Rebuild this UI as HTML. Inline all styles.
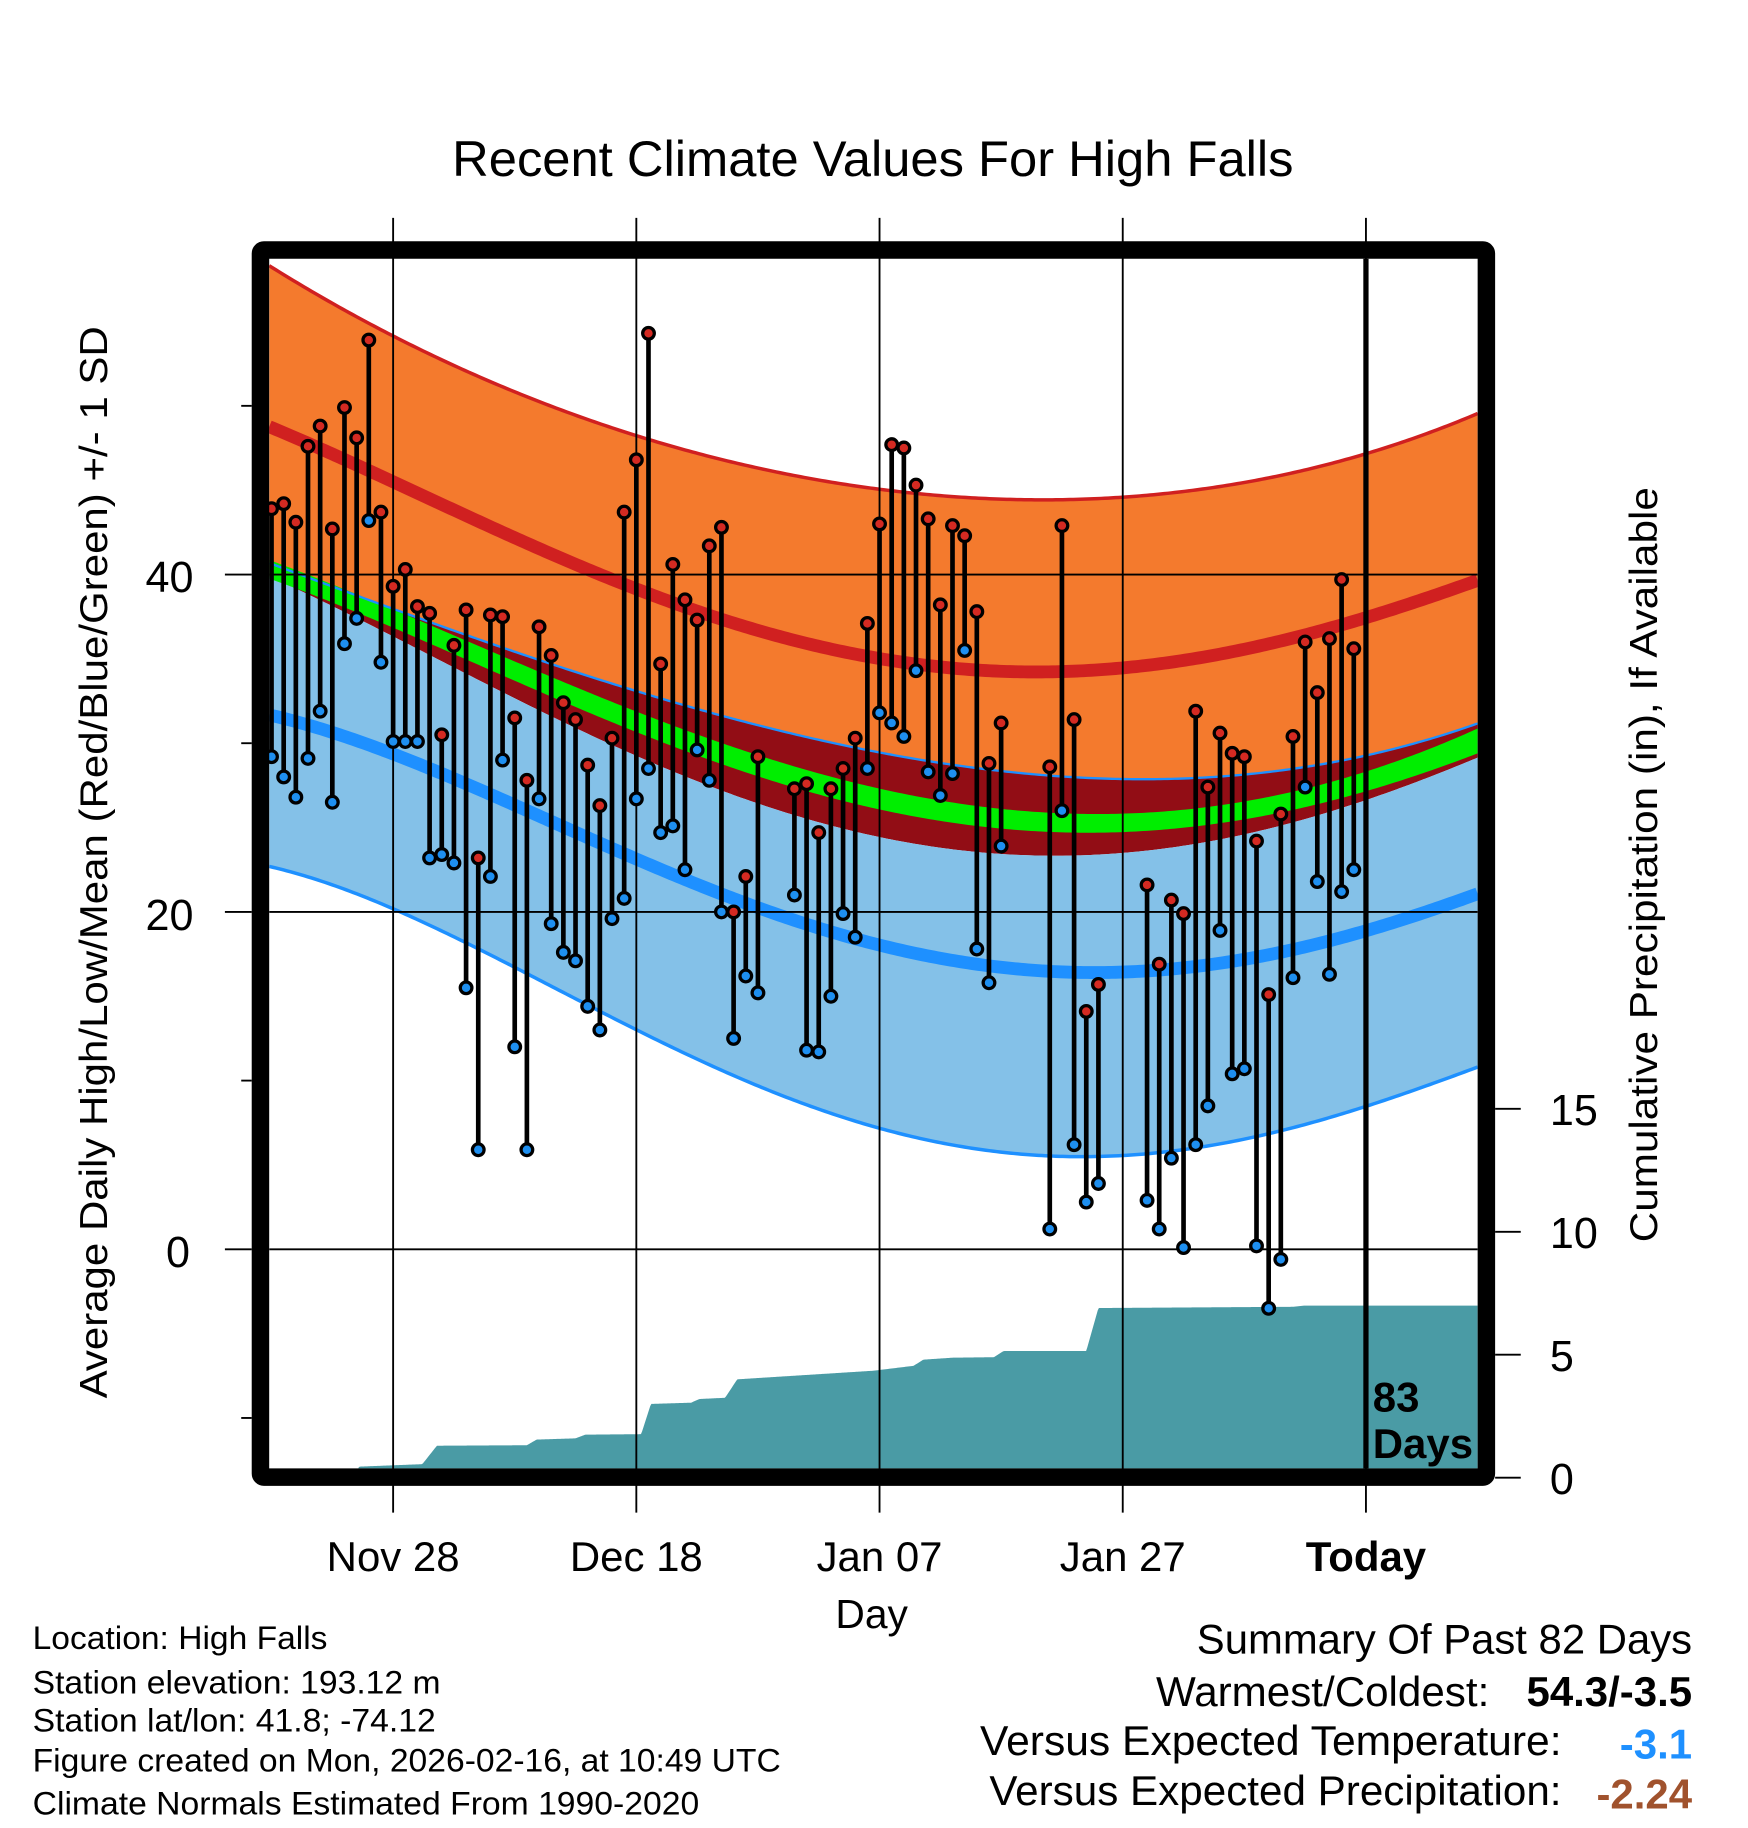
<!DOCTYPE html>
<html><head><meta charset="utf-8"><style>
html,body{margin:0;padding:0;background:#fff;}
svg{display:block;font-family:"Liberation Sans",Arial,sans-serif;}
</style></head><body>
<svg id="chart" width="1748" height="1828" viewBox="0 0 1500 1568.6" preserveAspectRatio="none" xmlns="http://www.w3.org/2000/svg">
<g id="plotArea"></g>
<text x="749" y="151" font-size="43" text-anchor="middle" textLength="722" lengthAdjust="spacingAndGlyphs">Recent Climate Values For High Falls</text>
<text x="166" y="508" font-size="37" text-anchor="end">40</text>
<text x="166" y="798" font-size="37" text-anchor="end">20</text>
<text x="163" y="1087" font-size="37" text-anchor="end">0</text>
<text transform="translate(92,740) rotate(-90)" font-size="33" text-anchor="middle" textLength="920" lengthAdjust="spacingAndGlyphs">Average Daily High/Low/Mean (Red/Blue/Green) +/- 1 SD</text>
<text transform="translate(1422,742) rotate(-90)" font-size="33" text-anchor="middle" textLength="648" lengthAdjust="spacingAndGlyphs">Cumulative Precipitation (in), If Available</text>
<text x="748" y="1397" font-size="35" text-anchor="middle">Day</text>
<text x="1178" y="1211" font-size="36" font-weight="bold">83</text>
<text x="1178" y="1251" font-size="36" font-weight="bold">Days</text>
<g font-size="28">
<text x="28" y="1415" textLength="253" lengthAdjust="spacingAndGlyphs">Location: High Falls</text>
<text x="28" y="1453" textLength="350" lengthAdjust="spacingAndGlyphs">Station elevation: 193.12 m</text>
<text x="28" y="1486" textLength="346" lengthAdjust="spacingAndGlyphs">Station lat/lon: 41.8; -74.12</text>
<text x="28" y="1520" textLength="642" lengthAdjust="spacingAndGlyphs">Figure created on Mon, 2026-02-16, at 10:49 UTC</text>
<text x="28" y="1557" textLength="572" lengthAdjust="spacingAndGlyphs">Climate Normals Estimated From 1990-2020</text>
</g>
<g font-size="36">
<text x="1452" y="1419" text-anchor="end" textLength="425" lengthAdjust="spacingAndGlyphs">Summary Of Past 82 Days</text>
<text x="1278" y="1464" text-anchor="end" textLength="286" lengthAdjust="spacingAndGlyphs">Warmest/Coldest:</text>
<text x="1452" y="1464" text-anchor="end" font-weight="bold">54.3/-3.5</text>
<text x="1340" y="1506" text-anchor="end" textLength="499" lengthAdjust="spacingAndGlyphs">Versus Expected Temperature:</text>
<text x="1452" y="1509" text-anchor="end" font-weight="bold" fill="#1e90ff">-3.1</text>
<text x="1340" y="1549" text-anchor="end" textLength="491" lengthAdjust="spacingAndGlyphs">Versus Expected Precipitation:</text>
<text x="1452" y="1552" text-anchor="end" font-weight="bold" fill="#a0522d">-2.24</text>
</g>
</svg>
<script>
// Observed data: day index from Nov 18 (0) ; Today = 90 (Feb 16)
const obsDays = [0,1,2,3,4,5,6,7,8,9,10,11,12,13,14,15,16,17,18,19,20,21,22,23,24,25,26,27,28,29,30,31,32,33,34,35,36,37,38,39,40,
43,44,45,46,47,48,49,50,51,52,53,54,55,56,57,58,59,60,
64,65,66,67,68,
72,73,74,75,76,77,78,79,80,81,82,83,84,85,86,87,88,89];
const highs = [43.9,44.2,43.1,47.6,48.8,42.7,49.9,48.1,53.9,43.7,39.3,40.3,38.1,37.7,30.5,35.8,37.9,23.2,37.6,37.5,31.5,27.8,36.9,35.2,32.4,31.4,28.7,26.3,30.3,43.7,46.8,54.3,34.7,40.6,38.5,37.3,41.7,42.8,20.0,22.1,29.2,
27.3,27.6,24.7,27.3,28.5,30.3,37.1,43.0,47.7,47.5,45.3,43.3,38.2,42.9,42.3,37.8,28.8,31.2,
28.6,42.9,31.4,14.1,15.7,
21.6,16.9,20.7,19.9,31.9,27.4,30.6,29.4,29.2,24.2,15.1,25.8,30.4,36.0,33.0,36.2,39.7,35.6];
const lows = [29.2,28.0,26.8,29.1,31.9,26.5,35.9,37.4,43.2,34.8,30.1,30.1,30.1,23.2,23.4,22.9,15.5,5.9,22.1,29.0,12.0,5.9,26.7,19.3,17.6,17.1,14.4,13.0,19.6,20.8,26.7,28.5,24.7,25.1,22.5,29.6,27.8,20.0,12.5,16.2,15.2,
21.0,11.8,11.7,15.0,19.9,18.5,28.5,31.8,31.2,30.4,34.3,28.3,26.9,28.2,35.5,17.8,15.8,23.9,
1.2,26.0,6.2,2.8,3.9,
2.9,1.2,5.4,0.1,6.2,8.5,18.9,10.4,10.7,0.2,-3.5,-0.6,16.1,27.4,21.8,16.3,21.2,22.5];
// Climate normals sampled at day indices
const normDays = [-0.2,10,20,30,40,50,60,70,80,90,99.2];
const normHighPlusSD = [58.2,54.4,50.8,48.1,46.1,45.2,44.7,44.5,45.4,47.1,49.6];
const normHigh = [49.0,45.0,42.1,39.7,36.8,34.8,34.1,34.3,35.7,37.7,39.5];
const normLowPlusSD = [40.7,37.9,35.5,33.1,31.0,29.5,28.3,27.9,28.2,29.2,31.2];
const normMeanTop = [40.8,38.1,34.8,31.8,29.2,27.4,26.2,25.8,26.5,28.3,30.9];
const normMeanBottom = [39.7,37.0,33.7,30.5,28.0,26.2,25.0,24.7,25.4,27.2,29.4];
const normHighMinusSD = [39.7,36.8,32.6,28.8,26.4,24.7,23.6,23.4,24.5,26.6,29.2];
const normLow = [31.7,29.3,26.4,23.1,20.3,18.0,16.7,16.4,17.3,18.8,21.1];
const normLowMinusSD = [22.9,19.7,16.8,13.3,9.9,7.0,5.5,5.5,6.7,8.6,10.7];
// Cumulative precipitation (in)
const precipDays = [0,6.8,7.2,12.4,13.6,21,21.8,25,25.8,30.4,31.2,34.5,35.2,37.3,38.3,49.5,52.8,53.6,56,59.4,60.2,67,68,84,85,99.2];
const precipCum = [0,0,0.45,0.55,1.3,1.32,1.55,1.6,1.75,1.77,3.0,3.05,3.2,3.25,4.0,4.35,4.55,4.8,4.88,4.9,5.15,5.15,6.9,6.95,7.0,7.0];
const xTickDays = [10,30,50,70,90];
const xTickLabels = ["Nov 28","Dec 18","Jan 07","Jan 27","Today"];
const yTicks = [-10,0,10,20,30,40,50];
const y2Ticks = [0,5,10,15];

const NS="http://www.w3.org/2000/svg";
const L=231,R=1268,T=222,B=1260;
const xS=d=>233+10.435*d;
const yS=t=>1072-14.475*t;
const y2S=p=>1268-21.1*p;
const g=document.getElementById('plotArea');
function mk(tag,attrs,parent){const e=document.createElementNS(NS,tag);for(const k in attrs)e.setAttribute(k,attrs[k]);(parent||g).appendChild(e);return e;}
function interp(xs,ys,x){if(x<=xs[0])return ys[0];for(let i=1;i<xs.length;i++){if(x<=xs[i]){const f=(x-xs[i-1])/(xs[i]-xs[i-1]);return ys[i-1]+f*(ys[i]-ys[i-1]);}}return ys[ys.length-1];}
// least-squares quartic fit for smooth normals
function fitPoly(xs,ys){
  const n=5;const A=[];const bv=[];
  for(let i=0;i<n;i++){A.push(new Array(n).fill(0));bv.push(0);}
  xs.forEach((x0,k)=>{const x=x0/50-1;const p=[1,x,x*x,x*x*x,x*x*x*x];for(let i=0;i<n;i++){bv[i]+=p[i]*ys[k];for(let j=0;j<n;j++)A[i][j]+=p[i]*p[j];}});
  for(let i=0;i<n;i++){let m=i;for(let r=i+1;r<n;r++)if(Math.abs(A[r][i])>Math.abs(A[m][i]))m=r;[A[i],A[m]]=[A[m],A[i]];[bv[i],bv[m]]=[bv[m],bv[i]];
    for(let r=0;r<n;r++){if(r===i)continue;const f=A[r][i]/A[i][i];for(let c=i;c<n;c++)A[r][c]-=f*A[i][c];bv[r]-=f*bv[i];}}
  const c=bv.map((v,i)=>v/A[i][i]);
  return d=>{const x=d/50-1;return c[0]+c[1]*x+c[2]*x*x+c[3]*x*x*x+c[4]*x*x*x*x;};
}
function curvePts(arr){const f=fitPoly(normDays,arr);const pts=[];for(let px=L;px<=R;px+=3){pts.push([px,yS(f((px-233)/10.435))]);}pts.push([R,yS(f((R-233)/10.435))]);return pts;}

const clip=mk('clipPath',{id:'pc'});mk('rect',{x:L,y:T,width:R-L,height:B-T},clip);
const inner=mk('g',{'clip-path':'url(#pc)'});


(function(){
  const host=inner;
  function bandIn(top,bot,fill,name){const a=curvePts(top),b=curvePts(bot).reverse();const p=mk('polygon',{points:a.concat(b).map(q=>q.join(',')).join(' '),fill:fill},host);
  
  }
  function lineIn(arr,color,w,name){const p=mk('polyline',{points:curvePts(arr).map(q=>q.join(',')).join(' '),fill:'none',stroke:color,'stroke-width':w},host);
  
  }
  bandIn(normHighPlusSD,normLowPlusSD,'#f47a2d','high-sd-band');
  bandIn(normLowPlusSD,normHighMinusSD,'#920d15','overlap-band');
  bandIn(normHighMinusSD,normLowMinusSD,'#84c1e8','low-sd-band');
  bandIn(normMeanTop,normMeanBottom,'#00ee00','mean-band');
  lineIn(normHighPlusSD,'#d02020',3,'high-plus-sd-line');
  lineIn(normHigh,'#d02020',11,'normal-high-line');
  lineIn(normLowPlusSD,'#1e90ff',2,'low-plus-sd-line');
  lineIn(normLow,'#1e90ff',11,'normal-low-line');
  lineIn(normLowMinusSD,'#1e90ff',3,'low-minus-sd-line');
  const pts=[];for(let px=L;px<=R;px+=1){const d=(px-233)/10.435;pts.push([px,y2S(interp(precipDays,precipCum,d))]);}
  pts.push([R,B+20]);pts.push([L,B+20]);
  const pp=mk('polygon',{points:pts.map(q=>q.join(',')).join(' '),fill:'#4a9ba5'},host);
  
  
  [0,20,40].forEach(t=>{const l=mk('line',{x1:L,x2:R,y1:yS(t),y2:yS(t),stroke:'#000','stroke-width':1.6},host);
  
  });
})();
xTickDays.forEach((d,i)=>{const l=mk('line',{x1:xS(d),x2:xS(d),y1:187,y2:1298,stroke:'#000','stroke-width':1.6});


const t=mk('text',{x:xS(d),y:1348,'font-size':36,'text-anchor':'middle'});t.textContent=xTickLabels[i];
if(xTickLabels[i]==='Today')t.setAttribute('font-weight','bold');

});
const tl=mk('line',{x1:xS(90),x2:xS(90),y1:T,y2:B,stroke:'#000','stroke-width':4.5});


obsDays.forEach((d,i)=>{
  const x=xS(d);
  const s=mk('line',{x1:x,x2:x,y1:yS(highs[i]),y2:yS(lows[i]),stroke:'#000','stroke-width':4});
  
  
});
obsDays.forEach((d,i)=>{
  const x=xS(d);
  const h=mk('circle',{cx:x,cy:yS(highs[i]),r:5,fill:'#d42a22',stroke:'#000','stroke-width':2.8});
  
  
  const lo=mk('circle',{cx:x,cy:yS(lows[i]),r:5,fill:'#1e8ff0',stroke:'#000','stroke-width':2.8});
  
  
});
const fr=mk('rect',{x:223.5,y:214.5,width:1052,height:1053,fill:'none',stroke:'#000','stroke-width':15,rx:3});


yTicks.forEach(t=>{const major=(t%20===0);const l=mk('line',{x1:major?193:207,x2:216,y1:yS(t),y2:yS(t),stroke:'#000','stroke-width':1.6});

});
y2Ticks.forEach(p=>{const l=mk('line',{x1:1283,x2:1305,y1:y2S(p),y2:y2S(p),stroke:'#000','stroke-width':1.6});


const t=mk('text',{x:1330,y:y2S(p)+14,'font-size':37});t.textContent=String(p);

});
</script>
</body></html>
